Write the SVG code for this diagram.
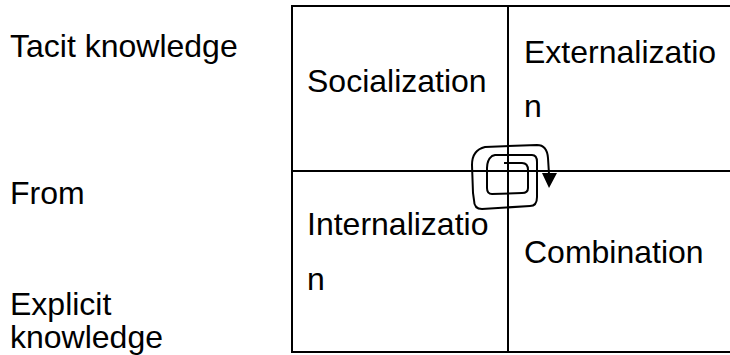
<svg xmlns="http://www.w3.org/2000/svg" width="730" height="355" viewBox="0 0 730 355">
<style>
.t{font-family:"Liberation Sans",Arial,sans-serif;font-size:32px;fill:#000}
.ln{stroke:#000;stroke-width:2;fill:none}
</style>
<rect width="730" height="355" fill="#fff"/>
<g id="labels">
<text class="t" x="10" y="57">Tacit knowledge</text>
<text class="t" x="10" y="204">From</text>
<text class="t" x="10" y="315">Explicit</text>
<text class="t" x="10" y="348">knowledge</text>
</g>
<g id="grid">
<path class="ln" d="M292,6 H731 M292,352 H731 M292,5 V353 M508,6 V352 M292,171 H731"/>
</g>
<g id="socialization"><text class="t" x="307" y="92">Socialization</text></g>
<g id="externalization"><text class="t" x="524" y="63">Externalizatio</text><text class="t" x="524" y="117">n</text></g>
<g id="internalization"><text class="t" x="307" y="235">Internalizatio</text><text class="t" x="307" y="290">n</text></g>
<g id="combination"><text class="t" x="524" y="263">Combination</text></g>
<g id="connectors">
<path class="ln" d="M504,163 L522,163 Q528,163 528,170 L528,188 Q528,193 522,193 L492,194 Q487,194 487,188 L487,168 Q487,160 492,156 L495,155 L532,155 Q537,155 537,162 L537,197 Q537,206 530,206 L482,209 Q474,209 474,200 L473,193 L472,165 Q472,150 485,147 L537,145 Q547,145 548,158 L549,174"/>
<polygon points="542,173 557,173 549,188" fill="#000"/>
</g>
</svg>
